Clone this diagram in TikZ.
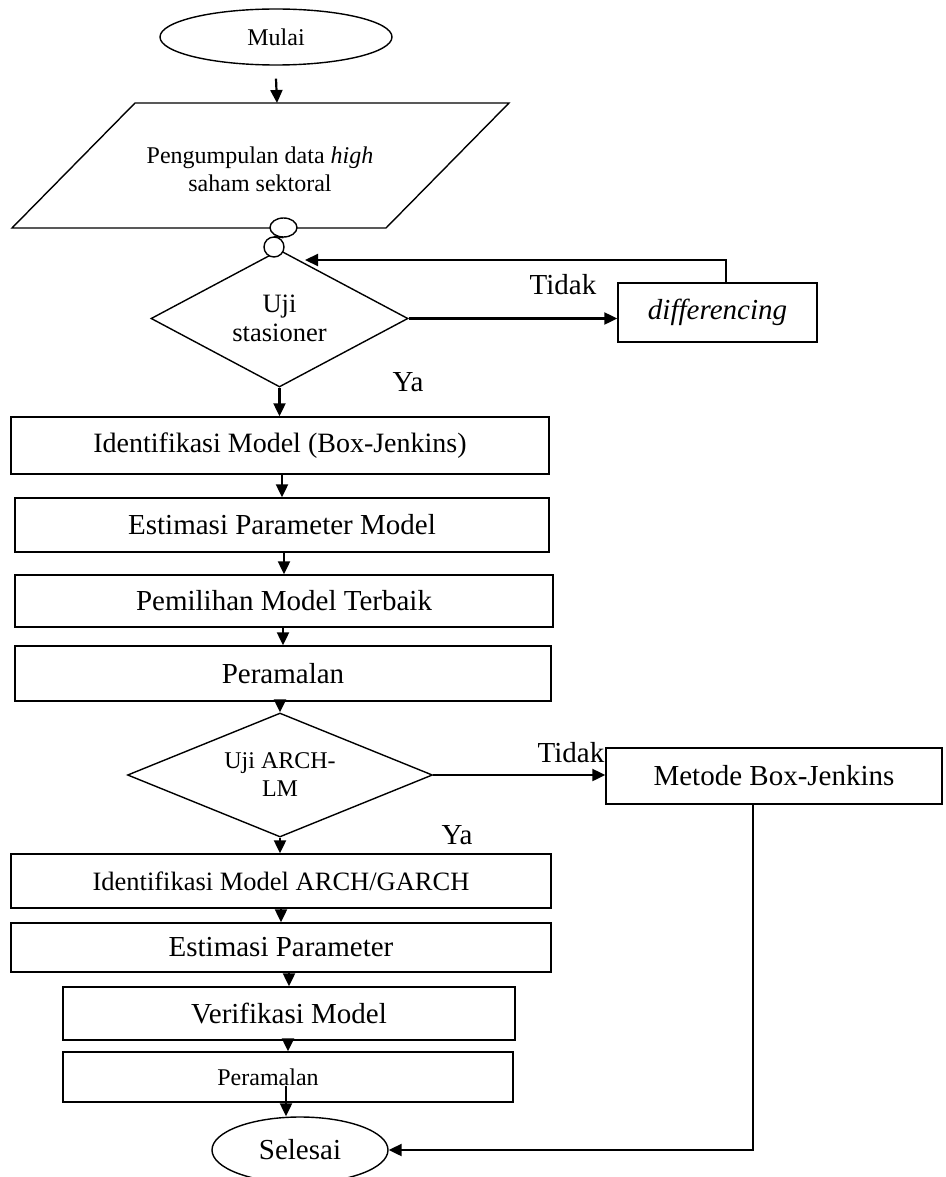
\documentclass[tikz,border=0pt]{standalone}
\usepackage{fontspec}
\setmainfont{Liberation Serif}
\usetikzlibrary{shapes.geometric,arrows.meta}
\newcommand\fA{\fontsize{29}{33}\selectfont}
\newcommand\fB{\fontsize{28}{32}\selectfont}
\newcommand\fC{\fontsize{26.5}{29}\selectfont}
\newcommand\fD{\fontsize{24}{28}\selectfont}
\begin{document}
\begin{tikzpicture}[x=1pt,y=-1pt,
  outl/.style={draw=black, line width=1.4pt},
  box/.style={outl, rectangle, inner sep=0pt},
  dia/.style={outl, diamond, inner sep=0pt, aspect=1.9, align=center},
  oval/.style={outl, ellipse, inner sep=0pt},
  conn/.style={line width=2.2pt, -{Triangle[length=13pt,width=12pt]}},
  thinwire/.style={line width=1.5pt},
  lbl/.style={inner sep=0pt, font=\fA}
]
\useasboundingbox (0,0) rectangle (945,1177);
\clip (0,0) rectangle (945,1177);

% start
\node[oval, minimum width=232pt, minimum height=56pt, font=\fD] (start) at (276,37) {Mulai};

% data input (parallelogram)
\draw[outl] (135,103) -- (509,103) -- (386,228) -- (12,228) -- cycle;
\coordinate (ptop) at (277,103);
\node[align=center, font=\fD, inner sep=0pt] (pdata) at (260,169) {Pengumpulan data \textit{high}\\saham sektoral};

% decision 1
\node[dia, minimum width=257pt, minimum height=137pt, font=\fC] (d1) at (279.5,318.5) {Uji\\stasioner};

% connectors (off-page style)
\node[oval, fill=white, minimum width=27pt, minimum height=19pt] (con1) at (283.5,227.5) {};
\node[outl, circle, fill=white, minimum size=20pt, inner sep=0pt] (con2) at (274,247) {};
\draw[line width=1.4pt] (con1.south) -- (con2.north);

% differencing
\node[box, minimum width=199pt, minimum height=59pt, font=\fA] (diff) at (717.5,312.5) {\textit{differencing}};
\coordinate (fb) at (726,260);
\coordinate (fbend) at (305,260);

% first chain
\node[box, minimum width=538pt, minimum height=57pt, font=\fB] (b1) at (280,445.5) {Identifikasi Model (Box-Jenkins)};
\node[box, minimum width=534pt, minimum height=54pt, font=\fA] (b2) at (282,525) {Estimasi Parameter Model};
\node[box, minimum width=538pt, minimum height=52pt, font=\fA] (b3) at (284,601) {Pemilihan Model Terbaik};
\node[box, minimum width=536pt, minimum height=55pt, font=\fA] (b4) at (283,673.5) {Peramalan};

% decision 2
\node[dia, minimum width=305pt, minimum height=124pt, font=\fD] (d2) at (280,775) {Uji ARCH-\\LM};
\node[box, minimum width=336pt, minimum height=56pt, font=\fA] (bj) at (774,776) {Metode Box-Jenkins};

% second chain
\node[box, minimum width=540pt, minimum height=54pt, font=\fC] (b5) at (281,881) {Identifikasi Model ARCH/GARCH};
\node[box, minimum width=540pt, minimum height=49pt, font=\fA] (b6) at (281,947.5) {Estimasi Parameter};
\node[box, minimum width=452pt, minimum height=53pt, font=\fA] (b7) at (289,1013.5) {Verifikasi Model};
\node[box, minimum width=450pt, minimum height=50pt] (b8) at (288,1077) {};
\node[lbl, font=\fD] (b8t) at (268,1077) {Peramalan};

% end
\node[oval, minimum width=176pt, minimum height=66pt, font=\fA] (end) at (300,1150) {Selesai};

% labels
\node[lbl] (tidak1) at (563,285) {Tidak};
\node[lbl] (ya1) at (408,382) {Ya};
\node[lbl] (tidak2) at (571,753) {Tidak};
\node[lbl] (ya2) at (457,835) {Ya};

% arrows
\draw[conn] ([yshift=-13pt]start.south) -- (ptop);
\draw[conn] (d1.east) -- (d1.east -| diff.west);
\draw[thinwire] (diff.north -| fb) -- (fb);
\draw[conn] ([xshift=0.75pt]fb) -- (fbend);
\draw[conn] (d1.south) -- (d1.south |- b1.north);
\draw[conn] (b1.south -| b2.north) -- (b2.north);
\draw[conn] (b2.south -| b3.north) -- (b3.north);
\draw[conn] (b3.south -| b4.north) -- (b4.north);
\draw[conn] (b4.south -| d2.north) -- (d2.north);
\draw[conn] (d2.east) -- (d2.east -| bj.west);
\draw[conn] (d2.south) -- (d2.south |- b5.north);
\draw[conn] (b5.south -| b6.north) -- (b6.north);
\draw[conn] (b6.south -| b7.north) -- (b7.north);
\draw[conn] (b7.south -| b8.north) -- (b8.north);
\coordinate (e8) at (286,1086);
\draw[conn] (e8) -- (e8 |- end.north);
\coordinate (ret) at (753,1150);
\draw[thinwire] (bj.south -| ret) -- ([yshift=-0.75pt]ret);
\draw[conn] ([xshift=0.75pt]ret) -- (end.east);
\end{tikzpicture}
\end{document}
